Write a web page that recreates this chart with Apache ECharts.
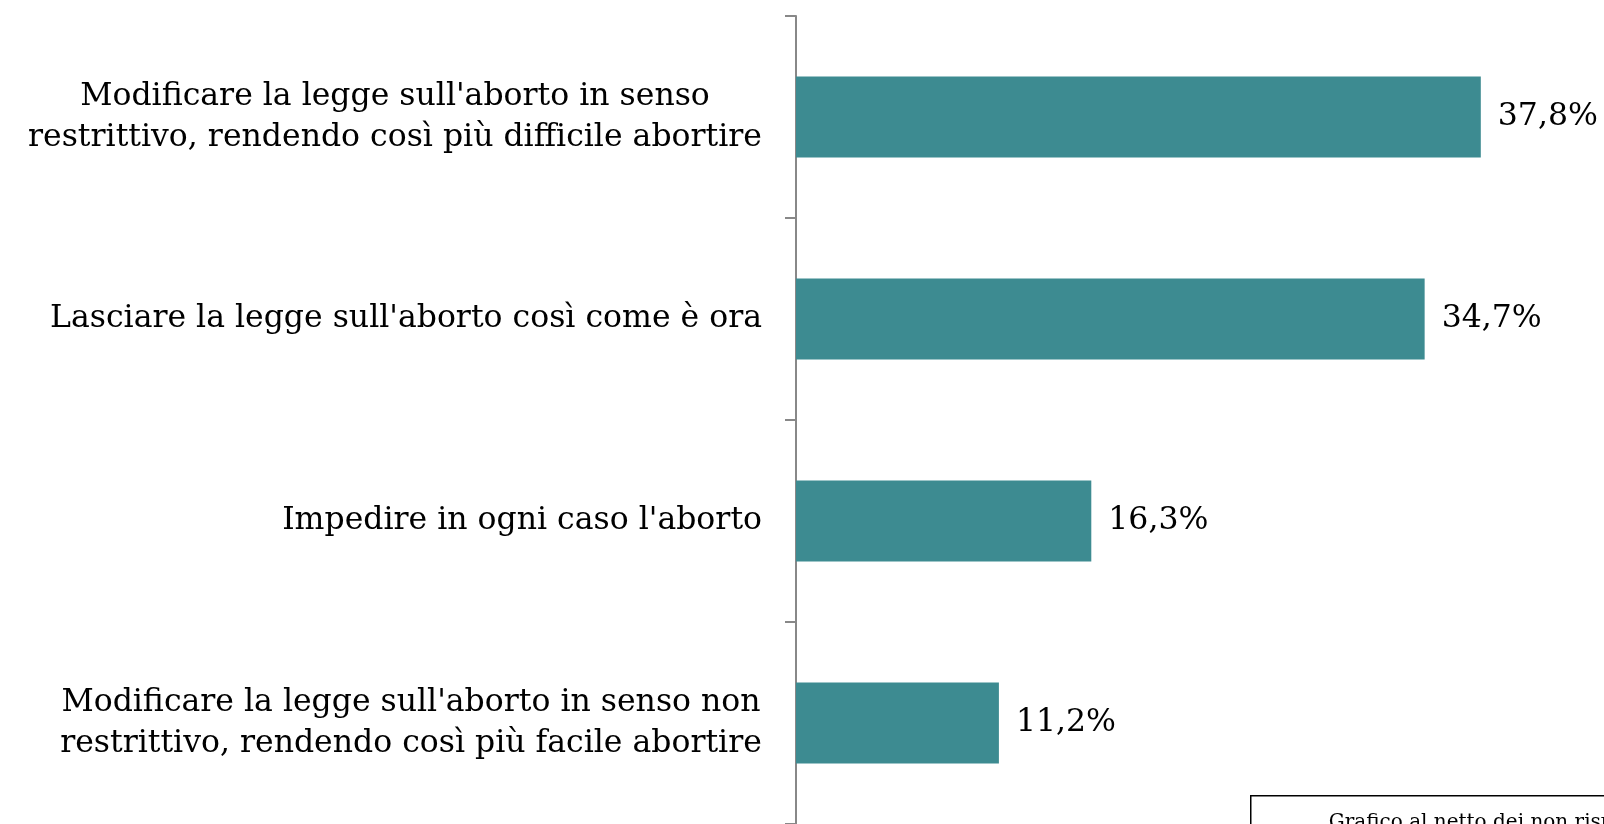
<!DOCTYPE html>
<html>
<head>
<meta charset="utf-8">
<title>Legge sull'aborto</title>
<script src="https://cdn.jsdelivr.net/npm/echarts@6/dist/echarts.min.js"></script>
<style>
	html, body { margin: 0; padding: 0; background: #fff; }
	#chart { width: 1604px; height: 824px; }
</style>
</head>
<body>
<div id="chart"></div>
<script>
const categories = [
	"Modificare la legge sull'aborto in senso\nrestrittivo, rendendo così più difficile abortire",
	"Lasciare la legge sull'aborto così come è ora",
	"Impedire in ogni caso l'aborto",
	"Modificare la legge sull'aborto in senso non\nrestrittivo, rendendo così più facile abortire"
];
const values = [37.8, 34.7, 16.3, 11.2];
const noteText = 'Grafico al netto dei non rispondenti';

( function() {
	const fontFamily = '"DejaVu Serif", Georgia, serif';
	const fontSize = 31.5;
	const lineH = 41;

	// measure lines so each label block is right aligned but its lines are centred
	const ctx = document.createElement('canvas').getContext('2d');
	ctx.font = fontSize + 'px ' + fontFamily;
	const lineWidth = txt => Math.ceil(ctx.measureText(txt).width);

	const labelFormatter = function(value) {
		const lines = value.split('\n');
		if( lines.length < 2 ) return value;
		const w = Math.max(...lines.map(lineWidth));
		return lines.map(l => '{c' + w + '|' + l + '}').join('\n');
	}

	const richStyles = {};
	categories.forEach(function(cat) {
		const lines = cat.split('\n');
		if( lines.length < 2 ) return;
		const w = Math.max(...lines.map(lineWidth));
		richStyles['c' + w] = { width: w, align: 'center', fontSize: fontSize, fontFamily: fontFamily, lineHeight: lineH, color: '#000' };
	});

	const chart = echarts.init(document.getElementById('chart'), null, { renderer: 'canvas' });

	chart.setOption({
		animation: false,
		grid: { left: 796, right: 0, top: 16, bottom: -2, containLabel: false },
		xAxis: {
			type: 'value',
			min: 0,
			max: 44.6,
			show: false
		},
		yAxis: {
			type: 'category',
			inverse: true,
			data: categories,
			axisLine: { show: true, lineStyle: { color: '#888', width: 2 } },
			axisTick: { show: true, length: 11, alignWithLabel: false, lineStyle: { color: '#888', width: 2 } },
			axisLabel: {
				margin: 34,
				fontSize: fontSize,
				fontFamily: fontFamily,
				lineHeight: lineH,
				color: '#000',
				formatter: labelFormatter,
				rich: richStyles
			}
		},
		series: [{
			type: 'bar',
			data: values,
			barCategoryGap: '60%',
			itemStyle: { color: '#3d8b91' },
			label: {
				show: true,
				position: 'right',
				distance: 17,
				fontSize: fontSize,
				fontFamily: fontFamily,
				color: '#000',
				formatter: p => p.value.toFixed(1).replace('.', ',') + '%'
			}
		}],
		graphic: [{
			type: 'group',
			left: 1250,
			top: 795,
			children: [{
				type: 'rect',
				shape: { x: 0, y: 0, width: 400, height: 60 },
				style: { fill: '#fff', stroke: '#000', lineWidth: 1.5 }
			}, {
				type: 'text',
				x: 78,
				y: 17,
				style: { text: noteText, fontSize: 20, fontFamily: fontFamily, fill: '#000' }
			}]
		}]
	});
}() );
</script>
</body>
</html>
